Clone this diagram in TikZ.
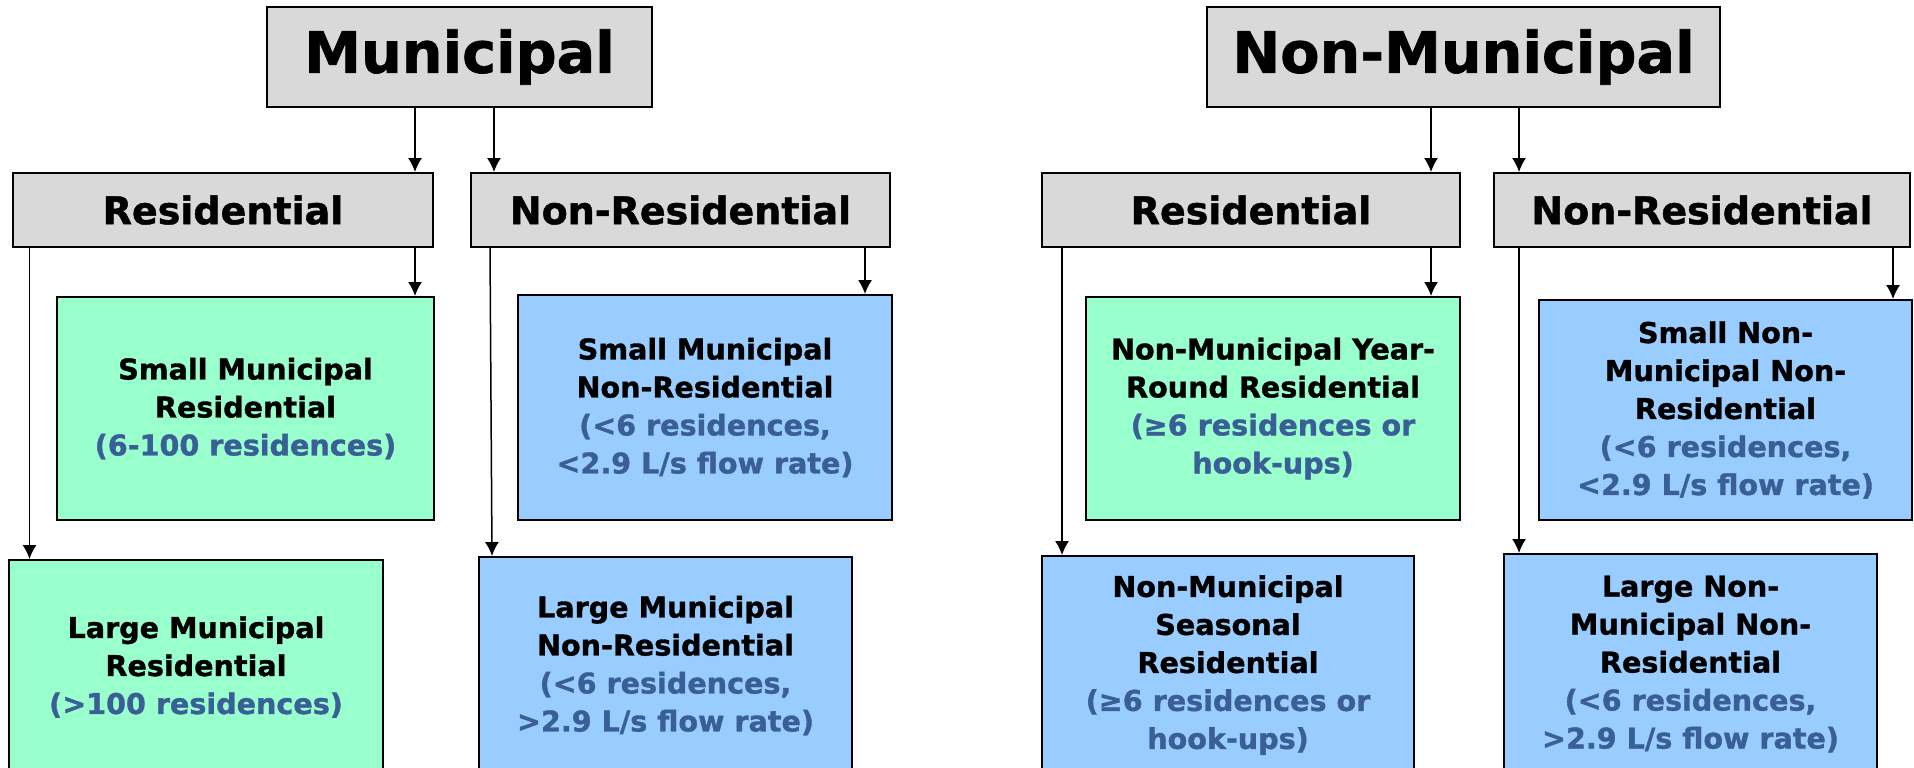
\documentclass[tikz,border=0pt]{standalone}
\usepackage{fontspec}
\setmainfont{DejaVu Sans}[BoldFeatures={FakeBold=1.2}]
\usetikzlibrary{arrows.meta}
\definecolor{hdrgray}{HTML}{D9D9D9}
\definecolor{resgreen}{HTML}{99FFCC}
\definecolor{nrblue}{HTML}{99CCFF}
\definecolor{notecol}{HTML}{3A5F96}
\newcommand{\note}[1]{{\color{notecol}#1}}
\begin{document}
\begin{tikzpicture}[x=0.5pt, y=-0.5pt,
    top/.style={draw=black, line width=1pt, fill=hdrgray, minimum height=50pt,
        font=\fontsize{28.6}{34}\bfseries},
    head/.style={draw=black, line width=1pt, fill=hdrgray, minimum height=37pt,
        font=\fontsize{19}{23}\bfseries},
    leaf/.style={draw=black, line width=1pt, align=center, inner sep=0pt,
        font=\fontsize{14.3}{19}\bfseries\selectfont},
    green/.style={leaf, fill=resgreen},
    blue/.style={leaf, fill=nrblue},
    arr/.style={line width=0.75pt, -{Latex[length=7pt,width=7pt]}}]
    \useasboundingbox (0,0) rectangle (1914,767);
    % top level
    \node[top, minimum width=192.5pt] (mun) at (459.5,57) {Municipal};
    \node[top, minimum width=256.5pt] (nmun) at (1463.5,57) {Non-Municipal};
    % second level
    \node[head, minimum width=210pt] (mres) at (223,210) {Residential};
    \node[head, minimum width=209.5pt] (mnr) at (680.5,210) {Non-Residential};
    \node[head, minimum width=209pt] (nres) at (1251,210) {Residential};
    \node[head, minimum width=208.25pt] (nnr) at (1702,210) {Non-Residential};
    % municipal leaves
    \node[green, minimum width=188.5pt, minimum height=111.5pt] (smr) at (245.5,408.5)
        {Small Municipal\\Residential\\\note{(6-100 residences)}};
    \node[blue, minimum width=187pt, minimum height=112.5pt] (smnr) at (705,407.5)
        {Small Municipal\\Non-Residential\\\note{(<6 residences,}\\\note{<2.9 L/s flow rate)}};
    \node[green, minimum width=187pt, minimum height=107pt] (lmr) at (196,667)
        {Large Municipal\\Residential\\\note{(>100 residences)}};
    \node[blue, minimum width=186.5pt, minimum height=108.5pt] (lmnr) at (665.5,665.5)
        {Large Municipal\\Non-Residential\\\note{(<6 residences,}\\\note{>2.9 L/s flow rate)}};
    % non-municipal leaves
    \node[green, minimum width=187pt, minimum height=111.5pt] (nyr) at (1273,408.5)
        {Non-Municipal Year-\\Round Residential\\\note{(≥6 residences or}\\\note{hook-ups)}};
    \node[blue, minimum width=186.5pt, minimum height=110pt] (snnr) at (1725.5,410)
        {Small Non-\\Municipal Non-\\Residential\\\note{(<6 residences,}\\\note{<2.9 L/s flow rate)}};
    \node[blue, minimum width=186pt, minimum height=109pt] (nsea) at (1228,665)
        {Non-Municipal\\Seasonal\\Residential\\\note{(≥6 residences or}\\\note{hook-ups)}};
    \node[blue, minimum width=186.5pt, minimum height=110pt] (lnnr) at (1690.5,664)
        {Large Non-\\Municipal Non-\\Residential\\\note{(<6 residences,}\\\note{>2.9 L/s flow rate)}};
    % top to second level
    \draw[arr] ([xshift=-22.25pt]mun.south) -- ([xshift=-22.25pt]mun.south |- mres.north);
    \draw[arr] ([xshift=17.25pt]mun.south) -- ([xshift=17.25pt]mun.south |- mnr.north);
    \draw[arr] ([xshift=-16.25pt]nmun.south) -- ([xshift=-16.25pt]nmun.south |- nres.north);
    \draw[arr] ([xshift=27.75pt]nmun.south) -- ([xshift=27.75pt]nmun.south |- nnr.north);
    % second level to leaves
    \draw[arr] ([xshift=96pt]mres.south) -- ([xshift=96pt]mres.south |- smr.north);
    \draw[arr] ([xshift=-96.75pt]mres.south) -- ([xshift=-83.25pt]lmr.north);
    \draw[arr] ([xshift=92.25pt]mnr.south) -- ([xshift=92.25pt]mnr.south |- smnr.north);
    \draw[arr] ([xshift=-95.25pt]mnr.south) -- ([xshift=-86.75pt]lmnr.north);
    \draw[arr] ([xshift=90pt]nres.south) -- ([xshift=90pt]nres.south |- nyr.north);
    \draw[arr] ([xshift=-94.5pt]nres.south) -- ([xshift=-83pt]nsea.north);
    \draw[arr] ([xshift=95.5pt]nnr.south) -- ([xshift=95.5pt]nnr.south |- snnr.north);
    \draw[arr] ([xshift=-91.5pt]nnr.south) -- ([xshift=-85.75pt]lnnr.north);
\end{tikzpicture}
\end{document}
